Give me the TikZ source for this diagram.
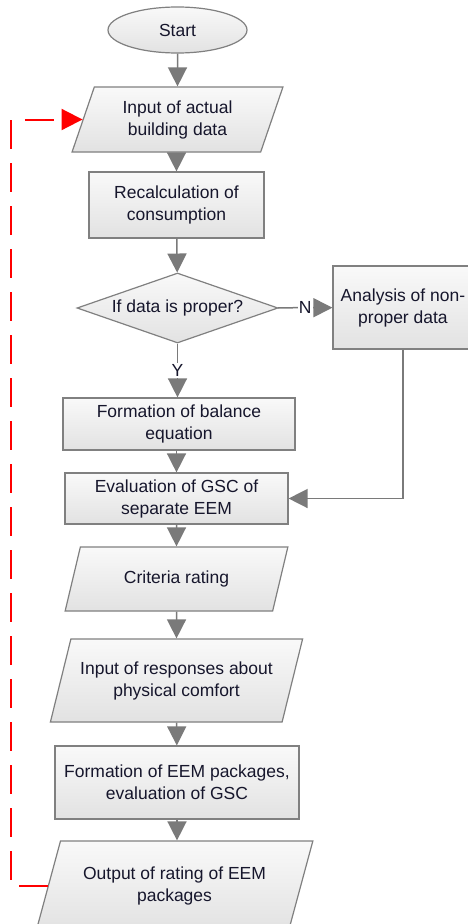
\documentclass[tikz,border=0pt]{standalone}
\usepackage{fontspec}
\setmainfont{Liberation Sans}
\usepackage{xcolor}
\usetikzlibrary{shapes.geometric,arrows.meta}
\definecolor{boxline}{RGB}{128,128,128}
\definecolor{arrowgray}{RGB}{122,122,122}
\definecolor{boxtop}{RGB}{249,249,249}
\definecolor{boxbot}{RGB}{226,226,226}
\definecolor{inktext}{RGB}{22,22,44}

\begin{document}
\begin{tikzpicture}[x=1pt,y=-1pt,
    every node/.style={font=\fontsize{17.5}{22}\selectfont, text=inktext, align=center, inner sep=0pt},
    block/.style={rectangle, draw=boxline, line width=1.2pt, top color=boxtop, bottom color=boxbot},
    terminal/.style={block, ellipse},
    decision/.style={block, diamond, aspect=2.87},
    inout/.style={block, trapezium, trapezium stretches=true},
    flow/.style={draw=arrowgray, line width=1.5pt, -{Triangle[length=19pt,width=19pt]}},
    loopback/.style={draw=red, line width=2pt, dash pattern=on 29pt off 14pt, -{Triangle[length=21pt,width=21pt]}},
    answer/.style={fill=white, inner sep=1pt}]
    \useasboundingbox [fill=white] (0,0) rectangle (467,924);
    % main column
    \node [terminal, minimum width=139pt, minimum height=46pt] (start) at (177.5,30) {Start};
    \node [inout, trapezium left angle=69, trapezium right angle=111, minimum width=211pt, minimum height=65pt] (inp) at (177.5,119.5) {Input of actual\\building data};
    \node [block, minimum width=175pt, minimum height=66pt] (recalc) at (176.5,205) {Recalculation of\\consumption};
    \node [decision, minimum width=201pt, minimum height=70pt] (proper) at (177.5,308) {If data is proper?};
    \node [block, minimum width=140pt, minimum height=83pt] (nonprop) at (403,307.5) {Analysis of non-\\proper data};
    \node [block, minimum width=232pt, minimum height=52pt] (balance) at (179,424) {Formation of balance\\equation};
    \node [block, minimum width=223pt, minimum height=51pt] (evalgsc) at (176.5,498.5) {Evaluation of GSC of\\separate EEM};
    \node [inout, trapezium left angle=63, trapezium right angle=117, minimum width=223pt, minimum height=64pt] (crit) at (176.5,579) {Criteria rating};
    \node [inout, trapezium left angle=64, trapezium right angle=116, minimum width=253pt, minimum height=83pt] (resp) at (176.5,680.5) {Input of responses about\\physical comfort};
    \node [block, minimum width=244pt, minimum height=73pt] (pack) at (177,782.5) {Formation of EEM packages,\\evaluation of GSC};
    \node [inout, trapezium left angle=63, trapezium right angle=117, minimum width=277pt, minimum height=90pt] (outp) at (174.5,886) {Output of rating of EEM\\packages};
    \coordinate (back) at (11,0);
    % connectors
    \draw [flow] (start) -- (inp);
    \draw [flow] (inp.south -| recalc) -- (recalc);
    \draw [flow] (recalc) -- (proper);
    \draw [flow] (proper) -- node [answer] {N} (nonprop);
    \draw [flow] (proper.south) -- node [answer] {Y} (proper.south |- balance.north);
    \draw [flow] (balance.south -| evalgsc) -- (evalgsc);
    \draw [flow] (nonprop.south) |- (evalgsc.east);
    \draw [flow] (evalgsc) -- (crit);
    \draw [flow] (crit) -- (resp);
    \draw [flow] (resp) -- (pack);
    \draw [flow] (pack) -- (pack.south |- outp.north);
    \draw [loopback] (outp.west) -| (back |- inp.west) -- (inp.west);
\end{tikzpicture}
\end{document}
